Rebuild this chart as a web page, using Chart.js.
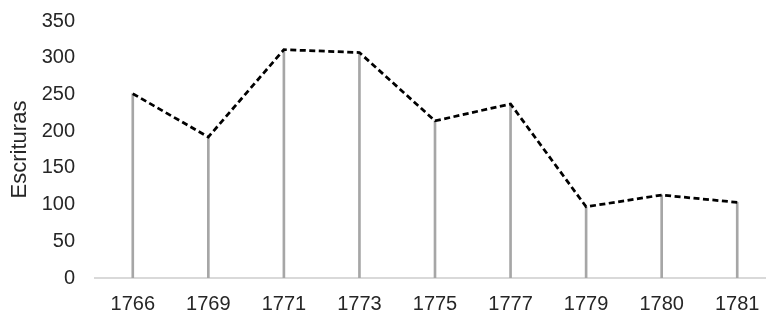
<!DOCTYPE html>
<html>
<head>
<meta charset="utf-8">
<script src="https://cdn.jsdelivr.net/npm/chart.js@4/dist/chart.umd.min.js"></script>
<style>
  html, body { margin: 0; padding: 0; background: #fff; overflow: hidden; }
  #wrap { width: 766px; height: 315px; overflow: hidden; }
</style>
</head>
<body>
<div id="wrap"><canvas id="canvas" width="775" height="315"></canvas></div>
<script>
  var years = ['1766', '1769', '1771', '1773', '1775', '1777', '1779', '1780', '1781']
  var escrituras = [251, 192, 311, 307, 214, 237, 97, 113, 103]
  var yTicks = [0, 50, 100, 150, 200, 250, 300, 350]

  var family = "'Liberation Sans', Arial, sans-serif"
  var tickFont = { family: family, size: 20 }
  var titleFont = { family: family, size: 22 }

  var context = document.getElementById('canvas').getContext('2d')
  new Chart(context, {
    type: 'bar',
    data: {
      labels: years,
      datasets: [{
        type: 'line',
        label: 'Escrituras',
        borderColor: '#000000',
        borderWidth: 2.75,
        borderDash: [6, 3.5],
        fill: false,
        tension: 0,
        pointRadius: 0,
        data: escrituras
      }, {
        type: 'bar',
        label: 'drop',
        backgroundColor: '#a6a6a6',
        barThickness: 2,
        data: escrituras
      }]
    },
    options: {
      responsive: false,
      animation: false,
      layout: { padding: 0 },
      plugins: {
        legend: { display: false },
        tooltip: { enabled: false }
      },
      scales: {
        x: {
          grid: { display: false, drawTicks: false },
          border: { display: true, color: '#d9d9d9', width: 2 },
          ticks: { font: tickFont, color: '#262626', padding: 14, maxRotation: 0 },
          afterFit: function (scale) { scale.height = 37 }
        },
        y: {
          min: 0,
          max: 350,
          afterBuildTicks: function (scale) {
            scale.ticks = yTicks.map(function (v) { return { value: v } })
          },
          grid: { display: false, drawTicks: false },
          border: { display: false },
          title: { display: true, text: 'Escrituras', font: titleFont, color: '#262626', padding: { top: 7, bottom: 0 } },
          ticks: { font: tickFont, color: '#262626', padding: 20 },
          afterFit: function (scale) {
            scale.width = 95
            scale.paddingTop = 21
            scale.paddingBottom = 0
          }
        }
      }
    }
  })
</script>
</body>
</html>
